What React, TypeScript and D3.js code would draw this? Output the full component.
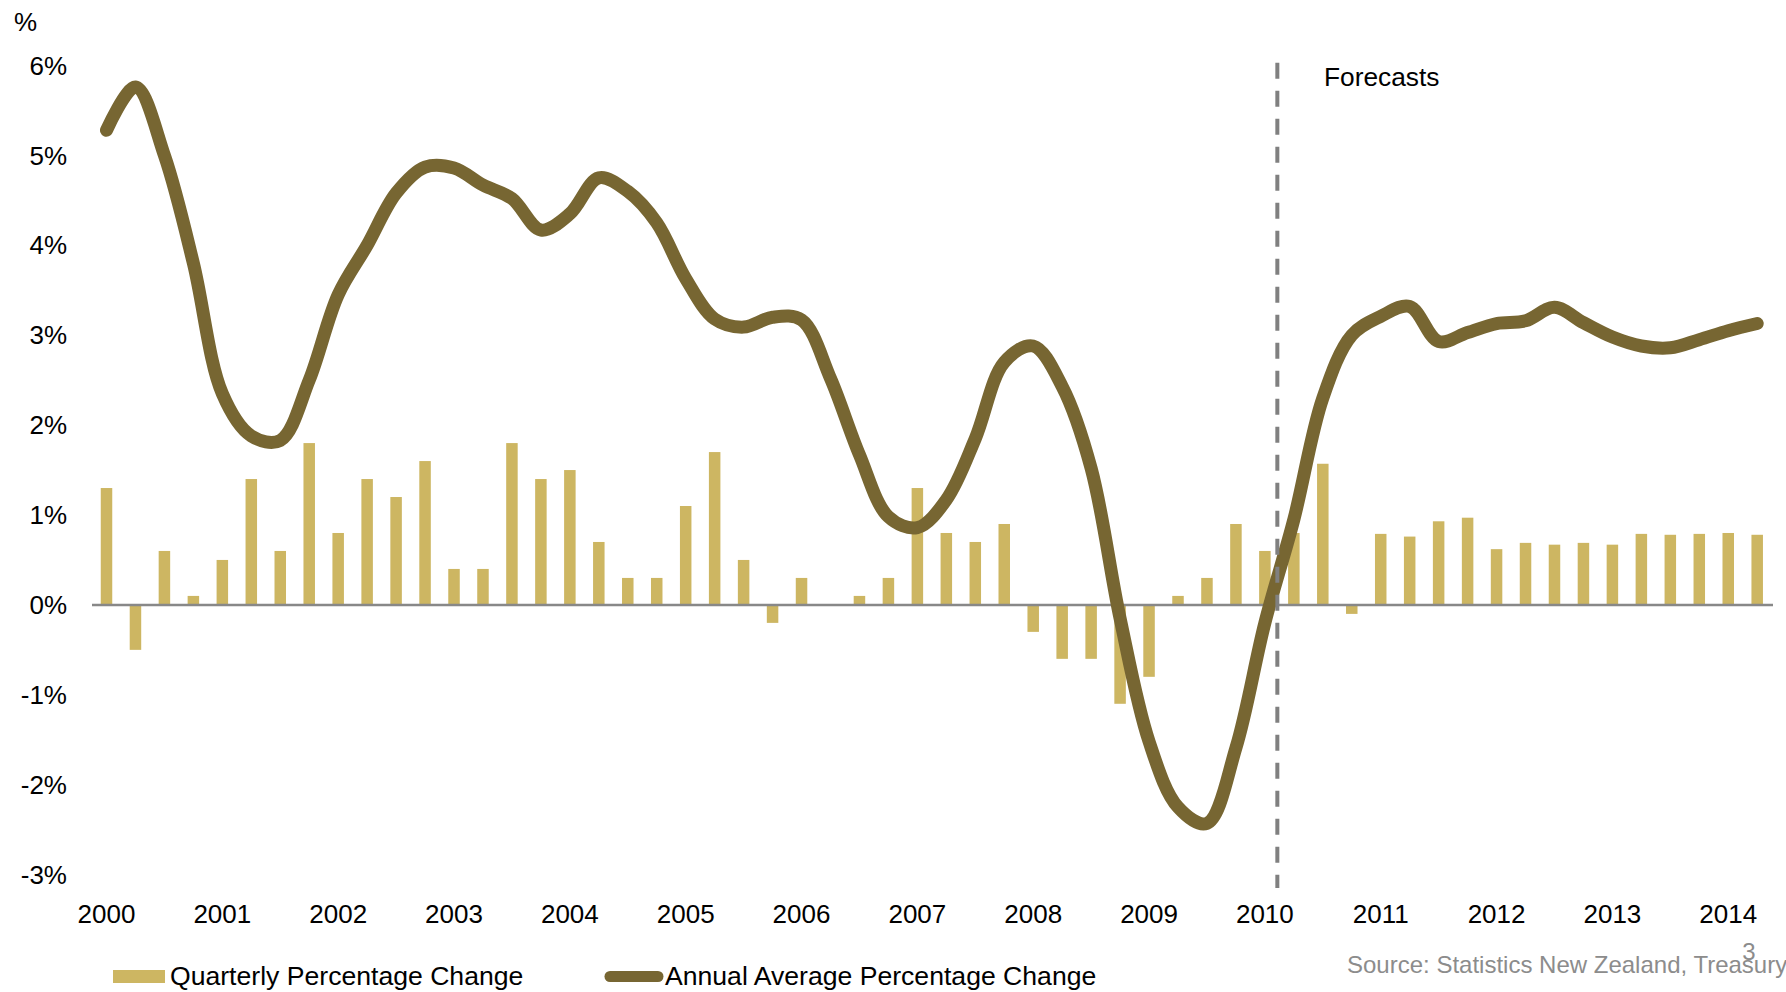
import React from "react";
import * as d3 from "d3";

const quarterly: number[] = [
  1.3, -0.5, 0.6, 0.1,
  0.5, 1.4, 0.6, 1.8,
  0.8, 1.4, 1.2, 1.6,
  0.4, 0.4, 1.8, 1.4,
  1.5, 0.7, 0.3, 0.3,
  1.1, 1.7, 0.5, -0.2,
  0.3, 0, 0.1, 0.3,
  1.3, 0.8, 0.7, 0.9,
  -0.3, -0.6, -0.6, -1.1,
  -0.8, 0.1, 0.3, 0.9,
  0.6, 0.8, 1.57, -0.1,
  0.79, 0.76, 0.93, 0.97,
  0.62, 0.69, 0.67, 0.69,
  0.67, 0.79, 0.78, 0.79,
  0.8, 0.78,
];

const annual: number[] = [
  5.28, 5.76, 5.0, 3.8,
  2.35, 1.88, 1.83, 2.5,
  3.45, 4.0, 4.58, 4.87,
  4.86, 4.67, 4.52, 4.17,
  4.35, 4.75, 4.6, 4.25,
  3.63, 3.18, 3.09, 3.2,
  3.17, 2.52, 1.67, 0.98,
  0.86, 1.17, 1.85, 2.7,
  2.88, 2.43, 1.52, -0.15,
  -1.52, -2.25, -2.43, -1.59,
  -0.2, 0.95, 2.3, 3.0,
  3.21, 3.32, 2.93, 3.03,
  3.13, 3.16, 3.31, 3.14,
  2.98, 2.88, 2.86, 2.95,
  3.05, 3.13,
];

const years: number[] = [2000, 2001, 2002, 2003, 2004, 2005, 2006, 2007, 2008, 2009, 2010, 2011, 2012, 2013, 2014];
const yTicks: number[] = [-3, -2, -1, 0, 1, 2, 3, 4, 5, 6];
const forecastStart = 40.43; // quarter index where forecasts begin

const FONT = "'Liberation Sans', Arial, sans-serif";

export default function App() {
  const x = d3.scaleLinear().domain([0, 57]).range([106.5, 1757.2]);
  const y = d3.scaleLinear().domain([-3, 6]).range([874.6, 65.5]);
  const barW = 11.5;

  const line = d3
    .line<number>()
    .x((_, i) => x(i))
    .y((d) => y(d))
    .curve(d3.curveCatmullRom.alpha(0.5));

  return (
    <svg
      width={1786}
      height={992}
      style={{ position: "absolute", left: 0, top: 0, background: "#fff" }}
      fontFamily={FONT}
    >
      <rect x={0} y={0} width={1786} height={992} fill="#fff" />
      {/* bars */}
      {quarterly.map((v, i) => (
        <rect
          key={i}
          x={x(i) - barW / 2}
          y={Math.min(y(v), y(0))}
          width={barW}
          height={Math.abs(y(v) - y(0))}
          fill="#CDB662"
        />
      ))}
      {/* zero line */}
      <line x1={92} x2={1773} y1={y(0)} y2={y(0)} stroke="#888888" strokeWidth={2.5} />
      {/* annual line */}
      <path
        d={line(annual) || ""}
        fill="none"
        stroke="#776632"
        strokeWidth={13}
        strokeLinecap="round"
        strokeLinejoin="round"
      />
      {/* forecast divider */}
      <line
        x1={x(forecastStart)}
        x2={x(forecastStart)}
        y1={y(6.03)}
        y2={y(-3.15)}
        stroke="#808080"
        strokeWidth={4}
        strokeDasharray="16 12"
      />
      <text x={1324} y={86} fontSize={26.3} fill="#000">Forecasts</text>
      {/* y axis labels */}
      <text x={14} y={31} fontSize={26} fill="#000">%</text>
      {yTicks.map((t) => (
        <text key={t} x={67} y={y(t)} dy="0.35em" textAnchor="end" fontSize={26} fill="#000">
          {`${t}%`}
        </text>
      ))}
      {/* x axis labels */}
      {years.map((yr, i) => (
        <text key={yr} x={x(i * 4)} y={922.5} textAnchor="middle" fontSize={26} fill="#000">
          {yr}
        </text>
      ))}
      {/* legend */}
      <rect x={113} y={970} width={52} height={13} fill="#CDB662" />
      <text x={170} y={985} fontSize={26.6} fill="#000">Quarterly Percentage Change</text>
      <line x1={610} x2={658} y1={976.5} y2={976.5} stroke="#776632" strokeWidth={11} strokeLinecap="round" />
      <text x={665} y={985} fontSize={26.6} fill="#000">Annual Average Percentage Change</text>
      {/* source */}
      <text x={1347} y={973} fontSize={24} fill="#8C8C8C">Source: Statistics New Zealand, Treasury</text>
      <text x={1749} y={960} fontSize={24} fill="#8C8C8C" textAnchor="middle">3</text>
    </svg>
  );
}
